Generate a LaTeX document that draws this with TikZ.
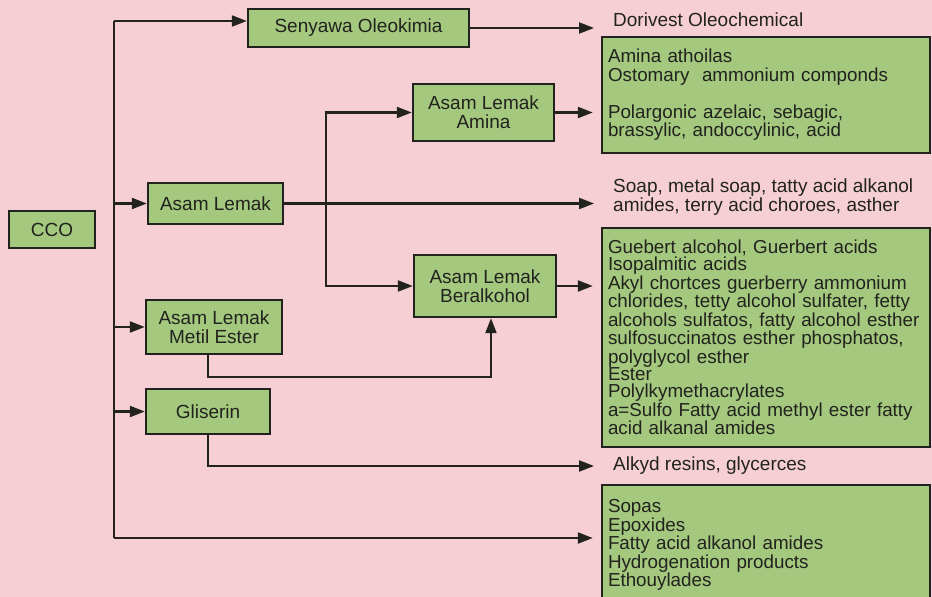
\documentclass[tikz,border=0pt]{standalone}
\usepackage{fontspec}
\setmainfont{Liberation Sans}
\usetikzlibrary{arrows.meta}
\definecolor{bgpink}{RGB}{245,207,211}
\definecolor{boxgreen}{RGB}{163,200,126}
\definecolor{ink}{RGB}{34,34,30}
\hyphenpenalty=10000
\tikzset{
  box/.style={draw=ink,line width=2.4pt,fill=boxgreen,text=ink,align=center,inner sep=0pt,font=\fontsize{19}{19}\selectfont},
  listbox/.style={draw=ink,line width=2.4pt,fill=boxgreen,text=ink,align=left,text width=316pt,inner xsep=6pt,inner ysep=0pt,font=\fontsize{18.8}{18.5}\selectfont},
  plain/.style={text=ink,align=left,anchor=west,inner sep=0pt,font=\fontsize{19}{14}\selectfont},
  arr/.style={line width=2.2pt,draw=ink,-{Triangle[length=15pt,width=11pt]}},
}
\begin{document}
\begin{tikzpicture}[x=1pt,y=-1pt]
\clip (0,0) rectangle (932,597);
\fill[bgpink] (0,0) rectangle (932,597);
% boxes
\node[box,minimum width=86pt,minimum height=37pt] (cco) at (52,229.5) {CCO};
\node[box,minimum width=221pt,minimum height=38pt] (senyawa) at (358.5,28) {Senyawa Oleokimia};
\node[box,minimum width=135pt,minimum height=41pt] (lemak) at (215.5,203.5) {Asam Lemak};
\node[box,minimum width=141pt,minimum height=57pt] (amina) at (483.5,112.5) {Asam Lemak\\Amina};
\node[box,minimum width=142pt,minimum height=62pt] (beralk) at (485,286) {Asam Lemak\\Beralkohol};
\node[box,minimum width=136pt,minimum height=54pt] (metil) at (214,327) {Asam Lemak\\Metil Ester};
\node[box,minimum width=124pt,minimum height=45pt] (gliserin) at (208,411.5) {Gliserin};
% products
\node[plain] (dorivest) at (613,20) {Dorivest Oleochemical};
\node[plain,font=\fontsize{19}{14.5}\selectfont] (soap) at (613,197) {Soap, metal soap, tatty acid alkanol\\amides, terry acid choroes, asther};
\node[plain] (alkyd) at (613,466) {Alkyd resins, glycerces};
\node[listbox,minimum height=116pt] (aminalist) at (766,95) {Amina athoilas\\Ostomary~ ammonium componds\\[18.5pt]Polargonic azelaic, sebagic,\\brassylic, andoccylinic, acid};
\node[listbox,minimum height=219pt,font=\fontsize{18.8}{17.2}\selectfont] (alklist) at (766,337.5) {Guebert alcohol, Guerbert acids\\Isopalmitic acids\\Akyl chortces guerberry ammonium\\chlorides, tetty alcohol sulfater, fetty\\alcohols sulfatos, fatty alcohol esther\\sulfosuccinatos esther phosphatos,\\polyglycol esther\\Ester\\Polylkymethacrylates\\a=Sulfo Fatty acid methyl ester fatty\\acid alkanal amides};
\node[listbox,minimum height=120pt] (cculist) at (766,545) {Sopas\\Epoxides\\Fatty acid alkanol amides\\Hydrogenation products\\Ethouylades};
% trunk
\coordinate (top) at (114,21);
\coordinate (bot) at (114,538);
\coordinate (fork) at (326,203.5);
\draw[line width=2.2pt,ink] (top) -- (bot);
\draw[arr] (top) -- (senyawa.west |- top);
\draw[arr] (lemak.west -| top) -- (lemak.west);
\draw[arr] (metil.west -| top) -- (metil.west);
\draw[arr] (gliserin.west -| top) -- (gliserin.west);
\draw[arr,shorten >=8pt] (bot) -- (cculist.west |- bot);
% branches
\draw[arr,shorten >=19pt] (senyawa.east) -- (senyawa.east -| dorivest.west);
\draw[arr,shorten >=19pt] (lemak.east) -- (lemak.east -| soap.west);
\draw[arr] (fork) |- (amina.west);
\draw[arr] (fork) |- (beralk.west);
\draw[arr,shorten >=8pt] (amina.east) -- (amina.east -| aminalist.west);
\draw[arr,shorten >=8pt] (beralk.east) -- (beralk.east -| alklist.west);
\draw[arr] ([xshift=-6pt]metil.south) |- ++(0,22) -| ([xshift=6pt]beralk.south);
\draw[arr,shorten >=19pt] (gliserin.south) |- (alkyd.west);
\end{tikzpicture}
\end{document}
